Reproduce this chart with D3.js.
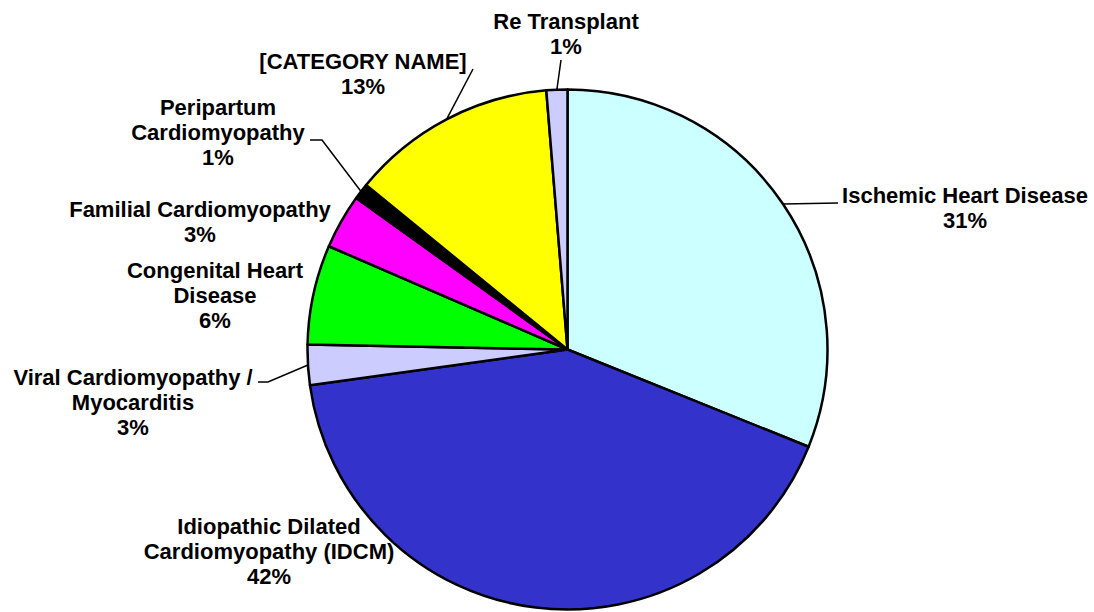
<!DOCTYPE html>
<html>
<head>
<meta charset="utf-8">
<script src="https://cdn.jsdelivr.net/npm/d3@7"></script>
<style>
  body { margin: 0; background: #fff; }
  text { font-family: "Liberation Sans", Arial, sans-serif; font-weight: bold; fill: #000; }
</style>
</head>
<body>
<div class="canvas"></div>
<script>
// data, clockwise from 12 o'clock
const categories = [
    'Ischemic Heart Disease',
    'Idiopathic Dilated Cardiomyopathy (IDCM)',
    'Viral Cardiomyopathy / Myocarditis',
    'Congenital Heart Disease',
    'Familial Cardiomyopathy',
    'Peripartum Cardiomyopathy',
    '[CATEGORY NAME]',
    'Re Transplant'
];
const shares = [31.1, 41.7, 2.5, 6.2, 3.4, 1.0, 12.8, 1.3];
const colors = ['#ccffff', '#3333cc', '#ccccff', '#00ff00', '#ff00ff', '#000000', '#ffff00', '#ccccff'];

// how each label wraps
const labelLines = [
    ['Ischemic Heart Disease'],
    ['Idiopathic Dilated', 'Cardiomyopathy (IDCM)'],
    ['Viral Cardiomyopathy /', 'Myocarditis'],
    ['Congenital Heart', 'Disease'],
    ['Familial Cardiomyopathy'],
    ['Peripartum', 'Cardiomyopathy'],
    ['[CATEGORY NAME]'],
    ['Re Transplant']
];

// label placement (center x, first line y) and leader elbows
const labelPos = [
    [965, 203], [269, 534], [133, 385], [215, 278],
    [200, 217], [218, 115], [363, 69], [566, 29]
];
const leaders = [
    [[838, 203]],
    null,
    [[268, 382], [258, 382]],
    null,
    null,
    [[322, 140], [310, 140]],
    [[473, 69]],
    [[561, 60]]
];

const dims = { width: 1094, height: 612, radius: 260 };
const center = { x: 567.5, y: 349.5 };
const lineH = 25;

const svg = d3.select('.canvas')
    .append('svg')
    .attr('width', dims.width)
    .attr('height', dims.height);

const graph = svg.append('g')
    .attr('transform', `translate(${center.x}, ${center.y})`);

const pie = d3.pie().sort(null).value(d => d.value);
const arcPath = d3.arc().innerRadius(0).outerRadius(dims.radius);

const data = categories.map((name, i) => ({ name, value: shares[i], i }));
const total = d3.sum(shares);
const arcs = pie(data);

graph.selectAll('path')
    .data(arcs)
    .enter()
    .append('path')
        .attr('d', arcPath)
        .attr('fill', d => colors[d.data.i])
        .attr('stroke', '#000')
        .attr('stroke-width', 2.5)
        .attr('stroke-linejoin', 'round');

// leader lines start on the rim at the slice's mid angle
const lineGen = d3.line();
arcs.forEach(d => {
    const pts = leaders[d.data.i];
    if (!pts) return;
    const mid = (d.startAngle + d.endAngle) / 2;
    const start = [
        center.x + dims.radius * Math.sin(mid),
        center.y - dims.radius * Math.cos(mid)
    ];
    svg.append('path')
        .attr('d', lineGen([start, ...pts]))
        .attr('fill', 'none')
        .attr('stroke', '#000')
        .attr('stroke-width', 1.5);
});

// labels
arcs.forEach(d => {
    const i = d.data.i;
    const lines = labelLines[i].concat([Math.round(d.value / total * 100) + '%']);
    const t = svg.append('text')
        .attr('text-anchor', 'middle')
        .attr('font-size', 22)
        .attr('x', labelPos[i][0])
        .attr('y', labelPos[i][1]);
    t.selectAll('tspan')
        .data(lines)
        .enter()
        .append('tspan')
            .attr('x', labelPos[i][0])
            .attr('dy', (l, k) => k === 0 ? 0 : lineH)
            .text(l => l);
});
</script>
</body>
</html>
